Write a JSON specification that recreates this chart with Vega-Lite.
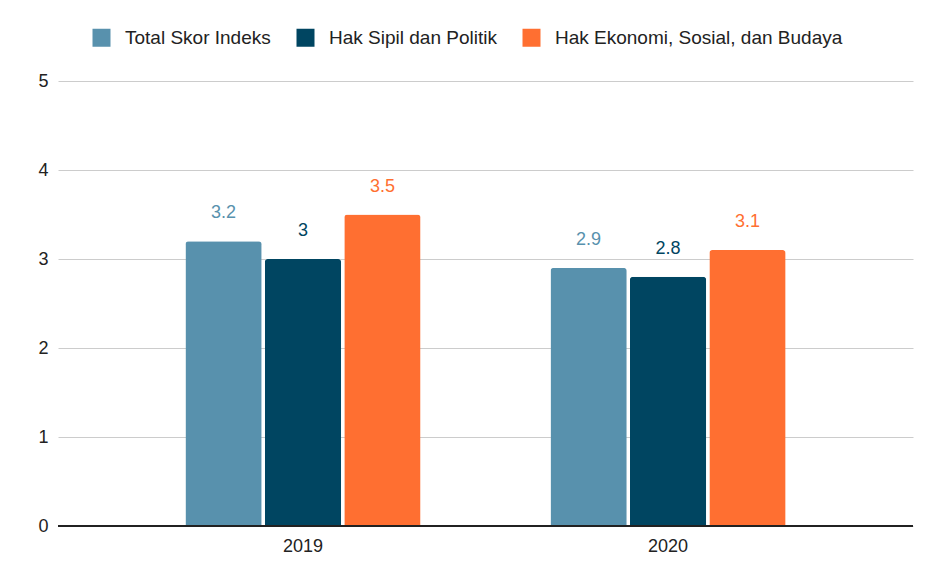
{
  "$schema": "https://vega.github.io/schema/vega-lite/v6.json",
  "width": 855,
  "height": 445,
  "autosize": {"type": "none"},
  "padding": {"left": 58, "top": 81, "right": 37, "bottom": 40},
  "background": "white",
  "config": {"view": {"stroke": null}, "font": "Liberation Sans"},
  "data": {"values": [
    {"year": "2019", "series": "Total Skor Indeks", "value": 3.2},
    {"year": "2019", "series": "Hak Sipil dan Politik", "value": 3.0},
    {"year": "2019", "series": "Hak Ekonomi, Sosial, dan Budaya", "value": 3.5},
    {"year": "2020", "series": "Total Skor Indeks", "value": 2.9},
    {"year": "2020", "series": "Hak Sipil dan Politik", "value": 2.8},
    {"year": "2020", "series": "Hak Ekonomi, Sosial, dan Budaya", "value": 3.1}
  ]},
  "encoding": {
    "x": {"field": "year", "type": "nominal", "title": null,
      "scale": {"paddingInner": 0.356, "paddingOuter": 0.349},
      "axis": {"labelAngle": 0, "labelFontSize": 18, "labelColor": "#222", "ticks": false, "domain": false, "labelPadding": 11}},
    "xOffset": {"field": "series", "type": "nominal",
      "sort": ["Total Skor Indeks", "Hak Sipil dan Politik", "Hak Ekonomi, Sosial, dan Budaya"],
      "scale": {"paddingInner": 0.04, "paddingOuter": 0}},
    "y": {"field": "value", "type": "quantitative", "title": null,
      "scale": {"domain": [0, 5]},
      "axis": {"values": [0, 1, 2, 3, 4, 5], "labelFontSize": 18, "labelColor": "#222", "ticks": false, "domain": false, "gridColor": "#cccccc", "gridWidth": 1, "labelPadding": 10}},
    "color": {"field": "series", "type": "nominal",
      "sort": ["Total Skor Indeks", "Hak Sipil dan Politik", "Hak Ekonomi, Sosial, dan Budaya"],
      "scale": {"domain": ["Total Skor Indeks", "Hak Sipil dan Politik", "Hak Ekonomi, Sosial, dan Budaya"], "range": ["#5891AD", "#004561", "#FF6F31"]},
      "legend": {"title": null, "orient": "none", "legendX": 34, "legendY": -53, "direction": "horizontal",
        "symbolType": "square", "symbolSize": 324, "symbolStrokeWidth": 0, "symbolOpacity": 1,
        "labelFontSize": 19, "labelLimit": 500, "labelColor": "#222", "labelOffset": 14, "columnPadding": 25}}
  },
  "layer": [
    {"mark": {"type": "bar", "cornerRadiusTopLeft": 3, "cornerRadiusTopRight": 3}},
    {"mark": {"type": "text", "baseline": "bottom", "dy": -19, "fontSize": 18}, "encoding": {"text": {"field": "value", "type": "quantitative"}}},
    {"mark": {"type": "rule", "color": "#222", "strokeWidth": 1.5}, "encoding": {"y": {"datum": 0}, "x": null, "xOffset": null, "color": null}}
  ]
}
